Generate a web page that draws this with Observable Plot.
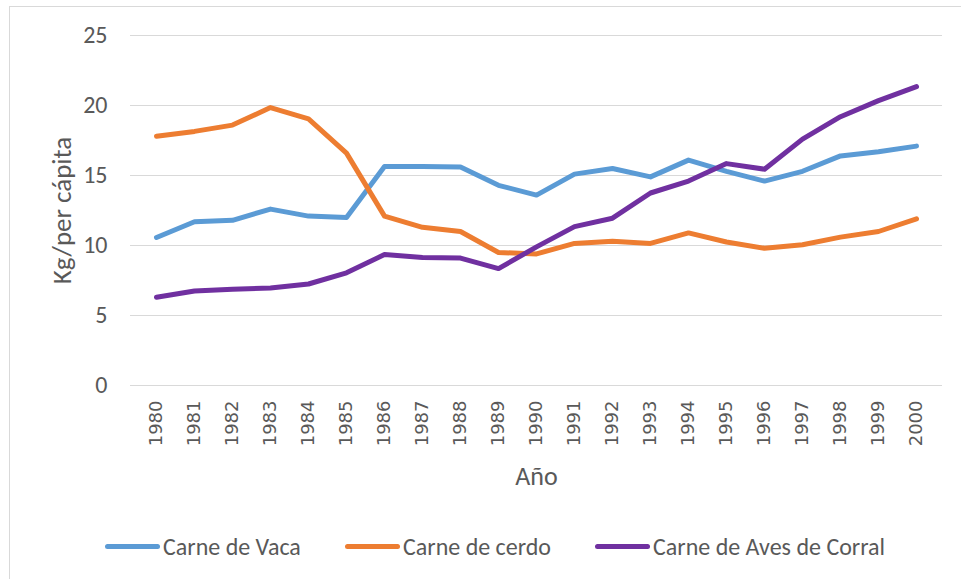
<!DOCTYPE html>
<html>
<head>
<meta charset="utf-8">
<script src="https://cdn.jsdelivr.net/npm/d3@7"></script>
<script src="https://cdn.jsdelivr.net/npm/@observablehq/plot@0.6"></script>
<style>
  html, body { margin: 0; padding: 0; background: #fff; }
  body { width: 961px; height: 579px; overflow: hidden; position: relative;
         font-family: Carlito, "Liberation Sans Narrow", "Open Sans", sans-serif; }
  #frame { position: absolute; left: 9px; top: 6px; width: 960px; height: 580px;
           border-left: 1px solid #d9d9d9; border-top: 1px solid #d9d9d9; box-sizing: border-box; }
  #chart { position: absolute; left: 0; top: 0; }
  #legend { position: absolute; left: 0; top: 531px; width: 961px; height: 30px; }
  .item { position: absolute; top: 0; display: flex; align-items: center; height: 30px;
          font-size: 24px; color: #595959; white-space: nowrap; }
  .sw { width: 55px; height: 5px; border-radius: 3px; margin-right: 3px; }
</style>
</head>
<body>
<div id="frame"></div>
<div id="chart"></div>
<div id="legend"></div>
<script>
const years = ["1980","1981","1982","1983","1984","1985","1986","1987","1988","1989","1990",
               "1991","1992","1993","1994","1995","1996","1997","1998","1999","2000"];
const seriesNames = ["Carne de Vaca", "Carne de cerdo", "Carne de Aves de Corral"];
const vaca  = [10.57, 11.7, 11.8, 12.6, 12.1, 12.0, 15.65, 15.65, 15.6, 14.3, 13.6,
               15.1, 15.5, 14.9, 16.1, 15.3, 14.6, 15.3, 16.4, 16.7, 17.1];
const cerdo = [17.8, 18.15, 18.6, 19.85, 19.05, 16.6, 12.1, 11.3, 11.0, 9.5, 9.4,
               10.15, 10.3, 10.15, 10.9, 10.25, 9.8, 10.05, 10.6, 11.0, 11.9];
const aves  = [6.3, 6.75, 6.88, 6.97, 7.25, 8.05, 9.35, 9.15, 9.1, 8.35, 9.9,
               11.35, 11.95, 13.75, 14.6, 15.85, 15.45, 17.6, 19.2, 20.35, 21.35];
const yTicks = [0, 5, 10, 15, 20, 25];
const colors = ["#5B9BD5", "#ED7D31", "#7030A0"];

const rows = [];
[vaca, cerdo, aves].forEach((arr, i) => {
  arr.forEach((v, j) => rows.push({year: years[j], value: v, series: seriesNames[i]}));
});

const chart = Plot.plot({
  width: 961,
  height: 530,
  marginLeft: 130,
  marginRight: 19,
  marginTop: 35,
  marginBottom: 145,
  style: {fontFamily: 'Carlito, "Liberation Sans Narrow", "Open Sans", sans-serif', background: "transparent"},
  x: {type: "point", domain: years, padding: 0.5, label: null},
  y: {domain: [0, 25], ticks: yTicks, label: null},
  color: {domain: seriesNames, range: colors},
  marks: [
    Plot.gridY(yTicks, {stroke: "#d9d9d9", strokeOpacity: 1, strokeWidth: 1}),
    Plot.axisY(yTicks, {tickSize: 0, tickPadding: 23, fontSize: 24, fill: "#595959", label: null}),
    Plot.axisX(years, {tickSize: 0, tickRotate: -90, tickPadding: 15, fontSize: 18, fill: "#595959",
                       fontFamily: "DejaVu Sans", label: null}),
    Plot.line(rows, {x: "year", y: "value", z: "series", stroke: "series",
                     strokeWidth: 5, strokeLinecap: "round", strokeLinejoin: "round", curve: "linear"}),
    Plot.text(["Kg/per cápita"], {frameAnchor: "left", dx: -68, rotate: -90, textAnchor: "middle",
                                  fontSize: 27, fill: "#595959"}),
    Plot.text(["Año"], {frameAnchor: "bottom", dy: 99, fontSize: 26, fill: "#595959"})
  ]
});
document.getElementById("chart").appendChild(chart);

const legend = document.getElementById("legend");
const lefts = [105, 345, 595];
seriesNames.forEach((name, i) => {
  const d = document.createElement("div");
  d.className = "item";
  d.style.left = lefts[i] + "px";
  const sw = document.createElement("span");
  sw.className = "sw";
  sw.style.background = colors[i];
  const t = document.createElement("span");
  t.textContent = name;
  d.appendChild(sw); d.appendChild(t);
  legend.appendChild(d);
});
</script>
</body>
</html>
